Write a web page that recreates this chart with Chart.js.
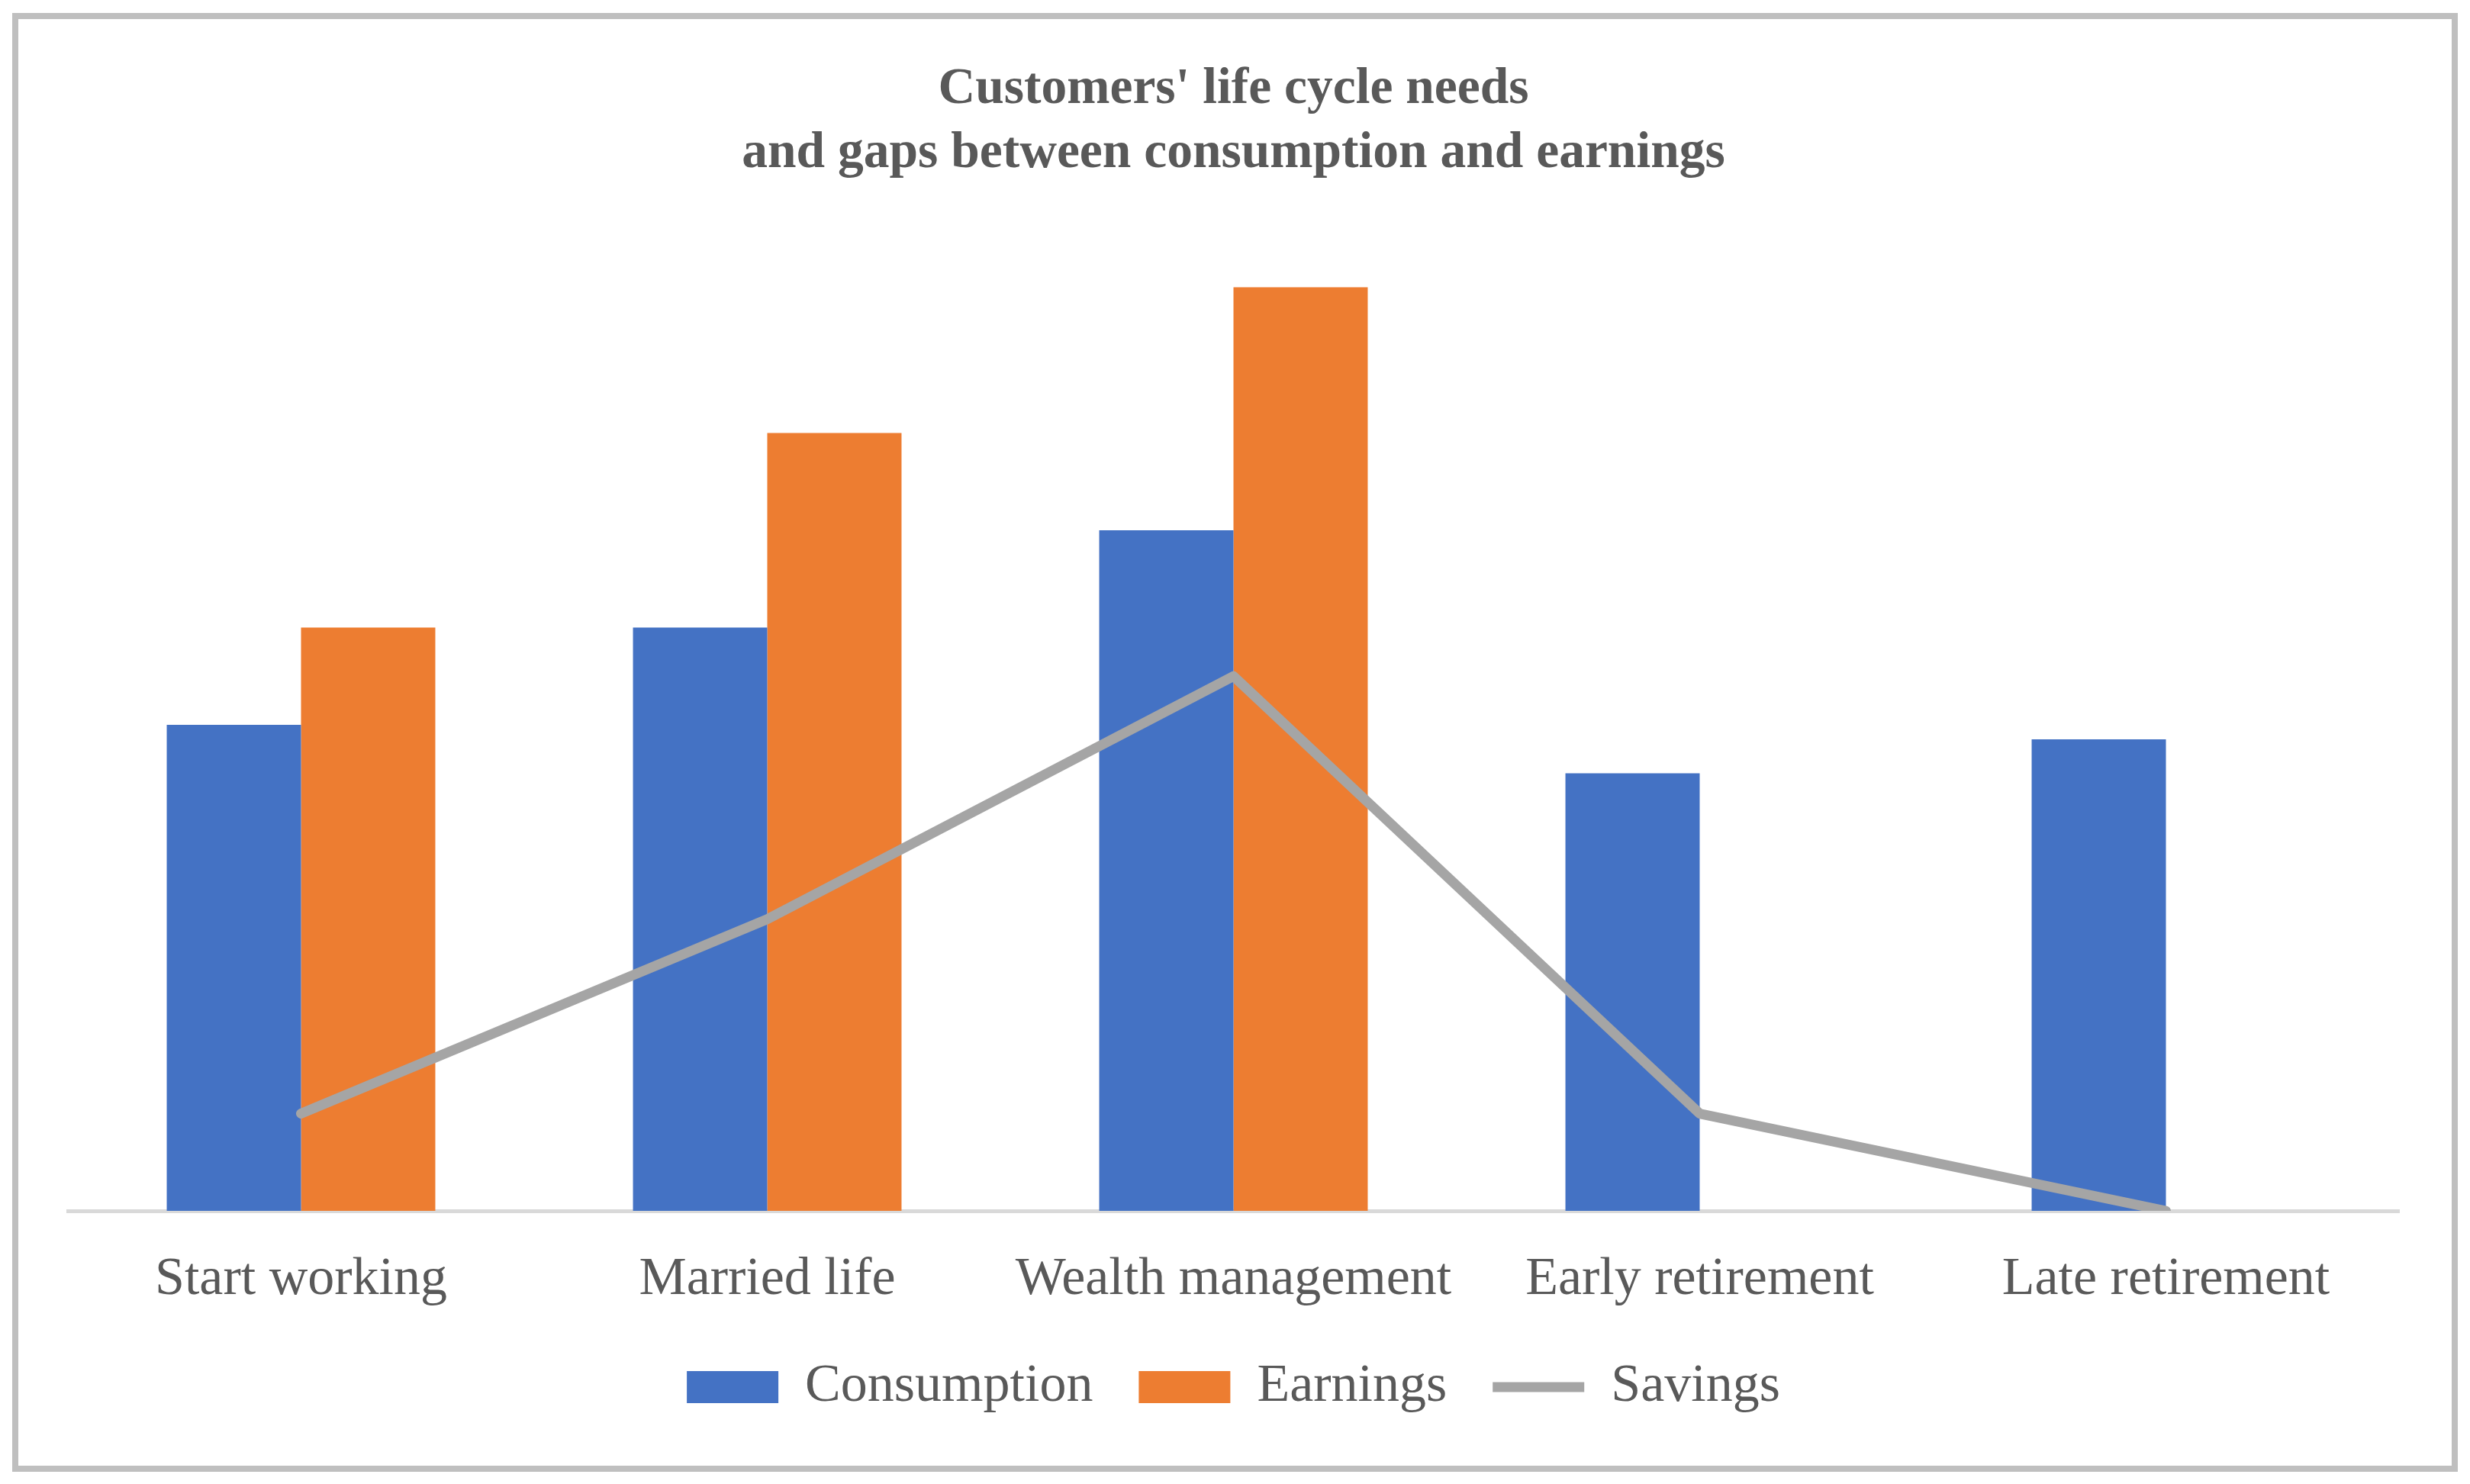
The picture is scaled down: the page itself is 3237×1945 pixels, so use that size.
<!DOCTYPE html>
<html>
<head>
<meta charset="utf-8">
<script src="https://cdn.jsdelivr.net/npm/chart.js@4.4.1/dist/chart.umd.min.js"></script>
<style>
  html, body { margin: 0; padding: 0; background: #fff; }
  #wrap { position: relative; width: 3237px; height: 1945px; }
  #frame {
    position: absolute; left: 16px; top: 17px; width: 3205px; height: 1912px;
    box-sizing: border-box; border: 8px solid #bfbfbf; pointer-events: none;
  }
  canvas { position: absolute; left: 0; top: 0; }
</style>
</head>
<body>
<div id="wrap">
  <canvas id="chart" width="3237" height="1945"></canvas>
  <div id="frame"></div>
</div>
<script>
// data
const stages = ["Start working", "Married life", "Wealth management", "Early retirement", "Late retirement"];
const consumption = [5, 6, 7, 4.5, 4.85];
const earnings = [6, 8, 9.5, null, null];
const savings = [1, 3, 5.5, 1, 0];

const textColor = "#595959";
Chart.defaults.font.family = "'Liberation Serif', 'Times New Roman', serif";
Chart.defaults.color = textColor;

const ctx = document.getElementById("chart").getContext("2d");

new Chart(ctx, {
  type: "bar",
  data: {
    labels: stages,
    datasets: [
      {
        label: "Consumption",
        data: consumption,
        backgroundColor: "#4472c4",
        pointStyle: "rect",
        order: 1,
      },
      {
        label: "Earnings",
        data: earnings,
        backgroundColor: "#ed7d31",
        pointStyle: "rect",
        order: 1,
      },
      {
        type: "line",
        label: "Savings",
        data: savings,
        borderColor: "#a5a5a5",
        backgroundColor: "#a5a5a5",
        borderWidth: 13,
        borderCapStyle: "round",
        borderJoinStyle: "round",
        pointRadius: 0,
        pointStyle: "line",
        tension: 0,
        order: 0,
      },
    ],
  },
  options: {
    responsive: false,
    devicePixelRatio: 1,
    animation: false,
    layout: {
      padding: { left: 89, right: 93, top: 0, bottom: 82 },
    },
    datasets: {
      bar: { categoryPercentage: 0.576, barPercentage: 1 },
    },
    scales: {
      x: {
        grid: { display: false, drawTicks: false },
        border: { display: true, color: "#d9d9d9", width: 5 },
        ticks: {
          color: textColor,
          font: { size: 70, lineHeight: 1.2 },
          padding: 49,
          maxRotation: 0,
          autoSkip: false,
        },
        // fixed axis band height so the plot bottom sits where the reference has it
        afterFit: (scale) => {
          scale.height = 136;
        },
      },
      y: {
        display: false,
        min: 0,
        max: 10,
      },
    },
    plugins: {
      title: {
        display: true,
        text: ["Customers' life cycle needs", "and gaps between consumption and earnings"],
        color: textColor,
        font: { size: 67.5, weight: "bold", lineHeight: 1.25 },
        padding: { top: 75, bottom: 69 },
      },
      legend: {
        position: "bottom",
        labels: {
          color: textColor,
          font: { size: 70 },
          usePointStyle: true,
          pointStyleWidth: 120,
          boxHeight: 42,
          padding: 60,
          sort: (a, b) => a.datasetIndex - b.datasetIndex,
        },
      },
      tooltip: { enabled: false },
    },
  },
});
</script>
</body>
</html>
